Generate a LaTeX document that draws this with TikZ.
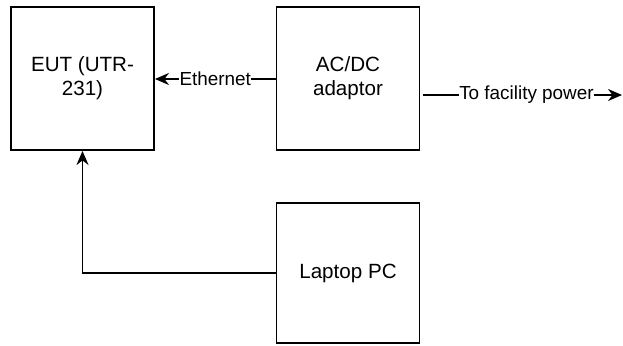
\documentclass[tikz,border=0pt]{standalone}
\usepackage{fontspec}
\setmainfont{Liberation Sans}
\usetikzlibrary{arrows.meta}
\tikzset{
  blockbox/.style={draw=black, line width=1.9pt, fill=white, minimum width=143pt, minimum height=143pt, inner sep=0pt, align=center, font=\fontsize{20.6}{24}\selectfont},
  conn/.style={draw=black, line width=1.9pt, -{Stealth[length=14pt,width=12pt,inset=4.5pt]}},
  lbl/.style={fill=white, inner xsep=0.3pt, inner ysep=1pt, font=\fontsize{18.9}{22}\selectfont}
}
\begin{document}
\begin{tikzpicture}[x=1pt,y=-1pt]
\useasboundingbox (0,0) rectangle (623,345);
\node[blockbox] (eut) at (82.5,78.5) {EUT (UTR-\\231)};
\node[blockbox] (acdc) at (348,78.5) {AC/DC\\adaptor};
\node[blockbox, minimum height=140pt] (pc) at (348,273) {Laptop PC};
\coordinate (fpstart) at (423,95);
\coordinate (fpend) at (622,95);
\draw[conn] (acdc.west |- 0,79) -- node[lbl, pos=0.5] {Ethernet} (eut.east |- 0,79);
\draw[conn] (fpstart) -- node[lbl, pos=0.52] {To facility power} (fpend);
\draw[conn] (pc.west) -- (eut.south |- pc.west) -- (eut.south);
\end{tikzpicture}
\end{document}
